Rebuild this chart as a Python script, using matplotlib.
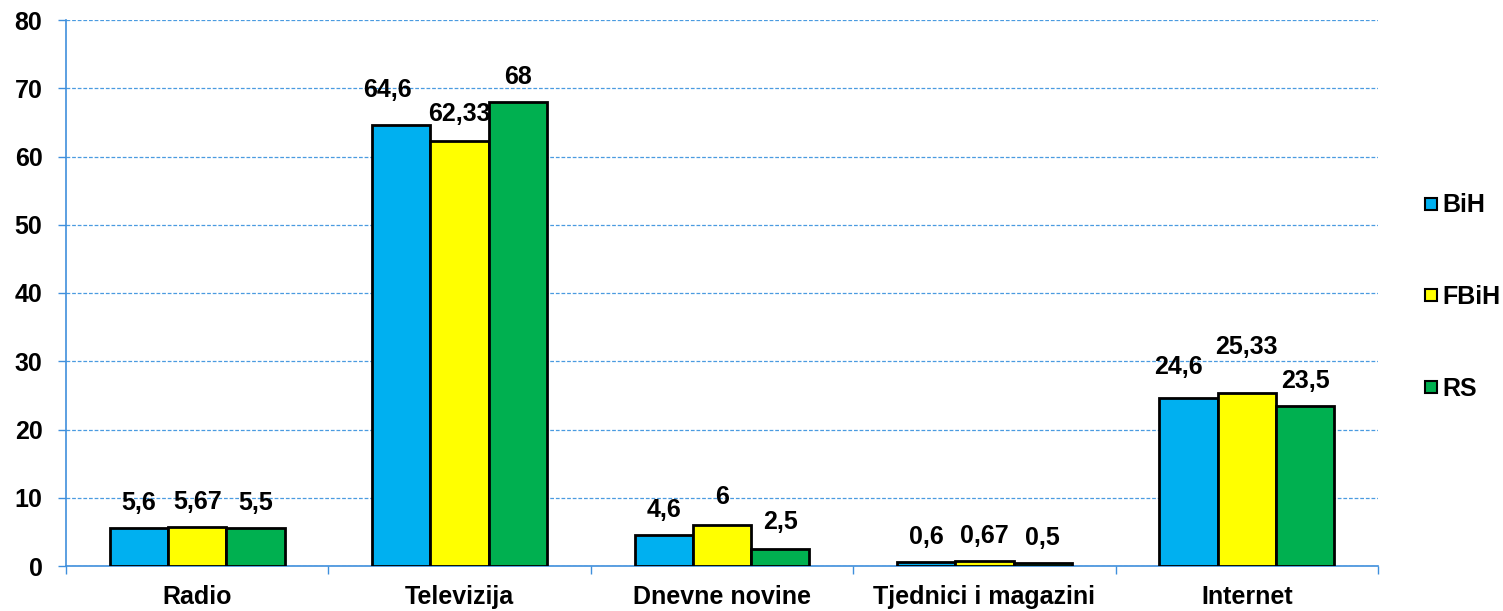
import matplotlib
matplotlib.use("Agg")
import matplotlib.pyplot as plt
import numpy as np
from matplotlib.lines import Line2D

categories = ["Radio", "Televizija", "Dnevne novine", "Tjednici i magazini", "Internet"]
series_names = ["BiH", "FBiH", "RS"]
bih = [5.6, 64.6, 4.6, 0.6, 24.6]
fbih = [5.67, 62.33, 6, 0.67, 25.33]
rs = [5.5, 68, 2.5, 0.5, 23.5]
label_bih = ["5,6", "64,6", "4,6", "0,6", "24,6"]
label_fbih = ["5,67", "62,33", "6", "0,67", "25,33"]
label_rs = ["5,5", "68", "2,5", "0,5", "23,5"]
yticks = [0, 10, 20, 30, 40, 50, 60, 70, 80]

colors = ["#00B0F0", "#FFFF00", "#00B050"]
axis_blue = "#3F8FDC"
FS = 18

plt.rcParams['font.family'] = ['Liberation Sans', 'DejaVu Sans']
plt.rcParams['font.weight'] = 'bold'

W, H = 1503, 611
fig = plt.figure(figsize=(W / 100, H / 100), dpi=100)
ax = fig.add_axes([66 / W, (H - 566) / H, (1378 - 66) / W, (566 - 20) / H])

x = np.arange(len(categories))
bw = 0.222
series = [bih, fbih, rs]
labels = [label_bih, label_fbih, label_rs]
# manual label nudges (pixels) as in the original chart
nudges = {(0, 1): (-14, 10), (0, 4): (-10, 6), (1, 4): (0, 21),
          (1, 2): (0, 3), (2, 2): (0, 2), (1, 1): (0, 2)}
for i, (vals, labs) in enumerate(zip(series, labels)):
    xs = x + (i - 1) * bw
    bars = ax.bar(xs, vals, width=bw, color=colors[i], edgecolor="black",
                  linewidth=2, zorder=3)
    for j, (b, lab) in enumerate(zip(bars, labs)):
        dx, dy = nudges.get((i, j), (0, 0))
        ax.annotate(lab, (b.get_x() + b.get_width() / 2, b.get_height()),
                    xytext=(dx, 13 + dy), textcoords="offset pixels",
                    ha="center", va="bottom", fontsize=FS, fontweight="bold",
                    zorder=5)

ax.set_xlim(-0.5, len(categories) - 0.5)
ax.set_ylim(0, 80)
ax.set_yticks(yticks)
ax.set_yticklabels([str(v) for v in yticks], fontsize=FS, fontweight="bold")
ax.tick_params(axis="y", length=6, width=1, color=axis_blue, pad=11)
ax.set_xticks(x)
ax.set_xticklabels(categories, fontsize=FS, fontweight="bold")
ax.tick_params(axis="x", which="major", length=0, pad=14)
ax.set_xticks(np.arange(-0.5, len(categories) + 0.5, 1), minor=True)
ax.tick_params(axis="x", which="minor", length=6, width=1, color=axis_blue, direction="out")

ax.grid(axis="y", color="#4A9BE0", linestyle=(0, (3, 1.5)), linewidth=0.9, zorder=0)
ax.set_axisbelow(True)
for s in ["top", "right"]:
    ax.spines[s].set_visible(False)
for s in ["left", "bottom"]:
    ax.spines[s].set_color(axis_blue)
    ax.spines[s].set_linewidth(1.2)

handles = [Line2D([0], [0], marker="s", linestyle="none", markersize=9,
                  markerfacecolor=c, markeredgecolor="black", markeredgewidth=1.5)
           for c in colors]
fig.legend(handles, series_names, loc="center left",
           bbox_to_anchor=(1410 / W, (H - 297) / H), frameon=False,
           prop={"size": FS, "weight": "bold"}, labelspacing=2.7,
           handletextpad=0.0, handlelength=0.9, borderaxespad=0)

fig.savefig("out.png", dpi=100)
